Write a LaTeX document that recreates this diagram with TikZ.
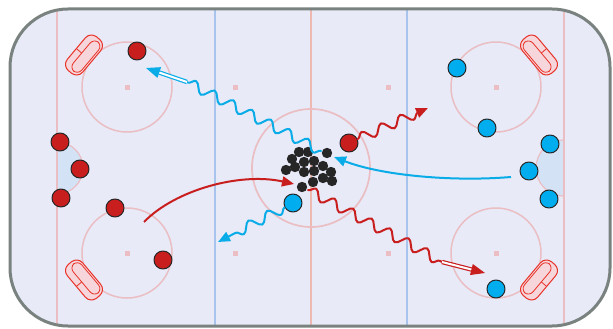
\documentclass[tikz,border=0pt]{standalone}
\usetikzlibrary{arrows.meta,decorations.pathmorphing}

\definecolor{icefill}{RGB}{232,234,248}
\definecolor{boardgray}{RGB}{122,130,128}
\definecolor{rinkred}{RGB}{234,190,194}
\definecolor{rinkblue}{RGB}{168,196,236}
\definecolor{creaseblue}{RGB}{212,226,246}
\definecolor{teamred}{RGB}{200,30,30}
\definecolor{teamblue}{RGB}{0,174,239}
\definecolor{netred}{RGB}{232,50,40}
\definecolor{netfill}{RGB}{246,214,218}
\definecolor{arrowred}{RGB}{200,30,30}
\definecolor{arrowblue}{RGB}{10,172,232}

\tikzset{
  player/.style={circle, draw=black!85, line width=1pt, minimum size=18pt, inner sep=0pt},
  redplayer/.style={player, fill=teamred},
  blueplayer/.style={player, fill=teamblue},
  puckdot/.style={fill=black!85},
  skate/.style={line width=2pt, line cap=round, decorate,
    decoration={snake, amplitude=5pt, segment length=21pt}},
  skatetip/.style={skate, decoration={snake, amplitude=5pt, segment length=21pt, post length=11pt},
    -{Triangle[length=12pt,width=10pt]}},
  passline/.style={line width=2pt, -{Triangle[length=12pt,width=10pt]}},
  shotline/.style={line width=1.2pt, double=white, double distance=2pt, -{Triangle[length=14pt,width=11pt]}},
  goalnet/.pic={
    \draw[netred, fill=netfill, line width=1pt, rounded corners=8pt] (-22,-10) rectangle (22,10);
    \draw[netred, line width=0.8pt, rounded corners=6pt] (-19,-3) rectangle (19,8);
    \draw[netred, line width=0.8pt] (0,-10) -- (0,-3);
  }
}

\begin{document}
\begin{tikzpicture}[x=1pt, y=-1pt, line join=round]
  \useasboundingbox (0,0) rectangle (613,329);

  % Ice surface
  \fill[icefill, rounded corners=58pt] (10,9) rectangle (610,326);

  \begin{scope}
    \clip[rounded corners=58pt] (10,9) rectangle (610,326);

    % Goal creases
    \draw[rinkred, fill=creaseblue, line width=1.2pt] (57,142) arc[start angle=-90, end angle=90, radius=26];
    \draw[rinkred, fill=creaseblue, line width=1.2pt] (564,140) arc[start angle=-90, end angle=-270, radius=28];

    % Goal lines, blue lines, centre line
    \foreach \gx in {57,564}
      \draw[rinkred, line width=1.2pt] (\gx,0) -- (\gx,329);
    \foreach \bx in {215,407}
      \draw[rinkblue, line width=2pt] (\bx,0) -- (\bx,329);
    \draw[rinkred!90!orange, line width=1.6pt] (311,0) -- (311,329);

    % Faceoff circles and spots
    \foreach \cx/\cy in {127/87, 127/253, 496/87, 496/253} {
      \draw[rinkred, line width=1.5pt] (\cx,\cy) circle (45);
      \fill[rinkred] (\cx-2.5,\cy-2.5) rectangle ++(5,5);
    }
    \draw[rinkred, line width=1.7pt] (311,168) circle (59);
    \foreach \nx/\ny in {235/87, 235/253, 388/87, 388/253}
      \fill[rinkred] (\nx-2.5,\ny-2.5) rectangle ++(5,5);
  \end{scope}

  % Boards
  \draw[boardgray, line width=3pt, rounded corners=58pt] (10,9) rectangle (610,326);

  % Nets
  \pic[rotate=50]   at (84,55)  {goalnet};
  \pic[rotate=130]  at (84,280) {goalnet};
  \pic[rotate=-50]  at (539,55) {goalnet};
  \pic[rotate=-130] at (539,280) {goalnet};

  % Puck battle in the centre
  \foreach \px/\py in {299/152, 308/152, 327/153, 292/159, 304/162, 314/161,
                       286/170, 295/167, 304/172, 314/171, 323/166, 331/172,
                       323/178, 313/182, 332/181, 302/187}
    \fill[puckdot] (\px,\py) circle (5.2);

  % Red team
  \node[redplayer] (r1) at (137,51)  {};
  \node[redplayer] (r2) at (60,142)  {};
  \node[redplayer] (r3) at (80,169)  {};
  \node[redplayer] (r4) at (61,198)  {};
  \node[redplayer] (r5) at (115,208) {};
  \node[redplayer] (r6) at (163,260) {};
  \node[redplayer] (r7) at (349,143) {};

  % Blue team
  \node[blueplayer] (b1) at (457,68)  {};
  \node[blueplayer] (b2) at (487,128) {};
  \node[blueplayer] (b3) at (550,144) {};
  \node[blueplayer] (b4) at (529,171) {};
  \node[blueplayer] (b5) at (549,199) {};
  \node[blueplayer] (b6) at (496,289) {};
  \node[blueplayer] (b7) at (293,203) {};

  % Free ends of the moves
  \coordinate (puckTop)    at (321,151);
  \coordinate (puckRight)  at (334,157);
  \coordinate (puckLeft)   at (294,184);
  \coordinate (puckBottom) at (308,190);
  \coordinate (blueCarry)  at (187,82);
  \coordinate (blueShot)   at (146,68);
  \coordinate (redCarry)   at (442,262);
  \coordinate (redShot)    at (485,273);
  \coordinate (redBreak)   at (428,108);
  \coordinate (blueBreak)  at (218,242);
  \coordinate (bluePassFrom) at (511,177);
  \coordinate (redPassFrom)  at (144,222);

  % Skating with the puck, then shots
  \draw[skate, arrowblue] (puckTop) -- (blueCarry);
  \draw[shotline, arrowblue] (blueCarry) -- (blueShot);
  \draw[skate, arrowred] (puckBottom) -- (redCarry);
  \draw[shotline, arrowred] (redCarry) -- (redShot);

  % Skating away from the pile
  \draw[skatetip, arrowred] (r7) -- (redBreak);
  \draw[skatetip, arrowblue] (b7) -- (blueBreak);

  % Passes into the pile
  \draw[passline, arrowblue] (bluePassFrom) .. controls (450,182) and (380,175) .. (puckRight);
  \draw[passline, arrowred] (redPassFrom) .. controls (175,190) and (240,172) .. (puckLeft);
\end{tikzpicture}
\end{document}
